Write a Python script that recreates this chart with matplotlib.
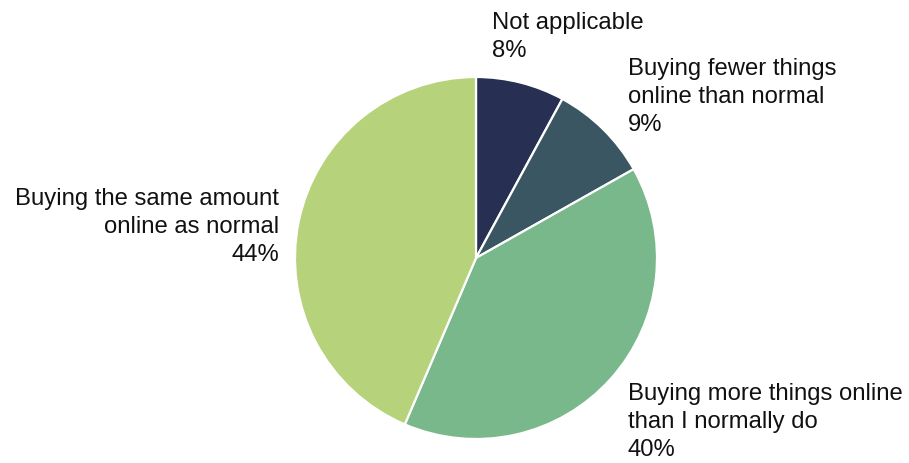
import matplotlib.pyplot as plt

# shares of respondents, clockwise from the top
categories = ['Not applicable',
              'Buying fewer things\nonline than normal',
              'Buying more things online\nthan I normally do',
              'Buying the same amount\nonline as normal']
shares = [8, 9, 40, 44]
colors = ['#272f52', '#3a5663', '#78b88a', '#b6d27a']

plt.rcParams['font.family'] = ['Liberation Sans', 'DejaVu Sans']

fig = plt.figure(figsize=(9.09, 4.64), dpi=100)
ax = fig.add_axes([0, 0, 1, 1])

# work in pixel coordinates, y measured from the bottom
ax.pie(shares, colors=colors, startangle=90, counterclock=False,
       center=(476, 205), radius=181,
       wedgeprops=dict(edgecolor='white', linewidth=1.6))
ax.set_xlim(0, 909)
ax.set_ylim(0, 464)
ax.set_aspect('auto')
ax.axis('off')

label_pos = [(492, 452, 'left'), (628, 406, 'left'),
             (628, 81, 'left'), (279, 276, 'right')]
for cat, val, (x, y, ha) in zip(categories, shares, label_pos):
    ax.text(x, y, f'{cat}\n{val}%', ha=ha, va='top', fontsize=17.2,
            linespacing=1.36, color='#111111', multialignment=ha)

fig.savefig('out.png', dpi=100)
